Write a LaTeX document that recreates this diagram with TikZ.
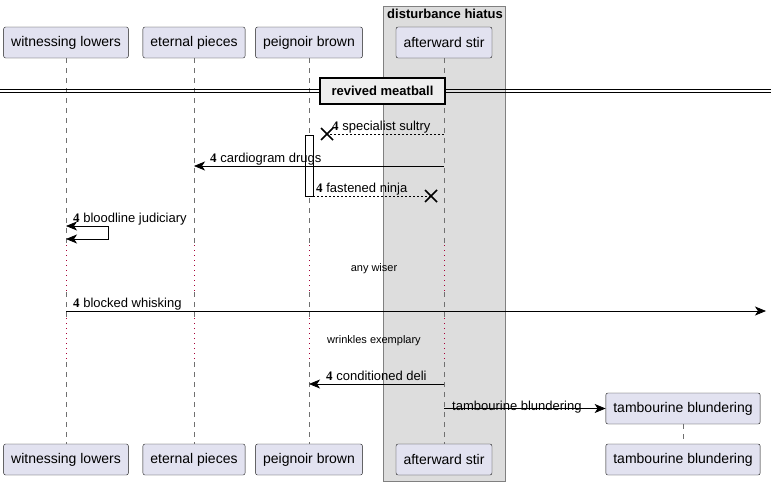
\documentclass[tikz,border=0pt]{standalone}
\usepackage{fontspec}
\setmainfont{Liberation Sans}
\newfontfamily\numfont{Liberation Serif}
\usetikzlibrary{arrows.meta}
\definecolor{partfill}{HTML}{E2E2F0}
\definecolor{partline}{HTML}{181818}
\definecolor{grpfill}{HTML}{DDDDDD}
\definecolor{grpline}{HTML}{808080}
\definecolor{lifegrey}{HTML}{707070}
\definecolor{delayred}{HTML}{A80036}
\definecolor{divfill}{HTML}{EEEEEE}
\newcommand{\nr}{{\numfont\bfseries 4}\ }
\newcommand{\pfont}{\fontsize{14}{16}\selectfont}
\newcommand{\mfont}{\fontsize{13}{15}\selectfont}

\begin{document}
\begin{tikzpicture}[x=1pt,y=-1pt,
  part/.style={draw=partline,fill=partfill,rounded corners=2pt,font=\pfont,
    minimum height=31pt,inner xsep=7.5pt,inner ysep=0pt},
  life/.style={lifegrey,dash pattern=on 5pt off 5pt},
  delay/.style={delayred,line width=0.8pt,dash pattern=on 1pt off 4pt},
  msg/.style={-{Stealth[length=11pt,width=9pt,inset=3pt]},line width=0.8pt},
  ret/.style={line width=0.8pt,dash pattern=on 2pt off 2pt},
  cross/.style={line width=1.6pt},
  lbl/.style={anchor=base west,font=\mfont,inner sep=0pt},
  delaytxt/.style={font=\fontsize{11}{13}\selectfont,inner sep=0pt}]
  \useasboundingbox (0,0) rectangle (771,485);

  % group box
  \draw[grpline,fill=grpfill] (383,6) rectangle (505,481);
  \node[font=\bfseries\mfont,inner sep=0pt] (grp) at (445,14) {disturbance hiatus};

  % rows
  \coordinate (d1) at (0,245);
  \coordinate (d2) at (0,292);
  \coordinate (d3) at (0,318);
  \coordinate (d4) at (0,362);
  \coordinate (m1) at (0,134);
  \coordinate (m2) at (0,166);
  \coordinate (m3) at (0,196);
  \coordinate (m4) at (0,226);
  \coordinate (m5) at (0,311);
  \coordinate (m6) at (0,384);

  % participants
  \node[part] (wl)  at ( 66, 42.5) {witnessing lowers};
  \node[part] (ep)  at (194, 42.5) {eternal pieces};
  \node[part] (pb)  at (309, 42.5) {peignoir brown};
  \node[part] (as)  at (444, 42.5) {afterward stir};
  \node[part] (wlb) at ( 66,459.5) {witnessing lowers};
  \node[part] (epb) at (194,459.5) {eternal pieces};
  \node[part] (pbb) at (309,459.5) {peignoir brown};
  \node[part] (asb) at (444,459.5) {afterward stir};
  \node[part] (tbb) at (683,459.5) {tambourine blundering};

  % lifelines with delays
  \foreach \p/\q in {wl/wlb,ep/epb,pb/pbb,as/asb} {
    \draw[life]  (\p.south)  -- (\p.south |- d1);
    \draw[delay] (\p.south |- d1) -- (\p.south |- d2);
    \draw[life]  (\p.south |- d2) -- (\p.south |- d3);
    \draw[delay] (\p.south |- d3) -- (\p.south |- d4);
    \draw[life]  (\p.south |- d4) -- (\q.north);
  }

  % divider
  \draw (0,89.5) -- (771,89.5);
  \draw (0,92.5) -- (771,92.5);
  \node[draw,line width=1.5pt,fill=divfill,font=\bfseries\mfont,
    minimum width=125pt,minimum height=26pt,inner sep=0pt] (div) at (382.5,91) {revived meatball};

  % activation
  \node[draw,fill=white,minimum width=8pt,minimum height=61pt,inner sep=0pt] (act) at (309,165.5) {};

  % 1
  \coordinate (kill1) at (327,134);
  \draw[ret] (as |- m1) -- (kill1);
  \draw[cross] (kill1) +(-6,-6) -- +(6,6) (kill1) +(-6,6) -- +(6,-6);
  \node[lbl] at (332,130) {\nr specialist sultry};
  % 2
  \draw[msg] (as |- m2) -- (ep |- m2);
  \node[lbl] at (210,162) {\nr cardiogram drugs};
  % 3
  \coordinate (kill2) at (431,196);
  \draw[ret] (act.east |- m3) -- (kill2);
  \draw[cross] (kill2) +(-6,-6) -- +(6,6) (kill2) +(-6,6) -- +(6,-6);
  \node[lbl] at (316,192) {\nr fastened ninja};
  % 4 self
  \draw[{Stealth[length=11pt,width=9pt,inset=3pt]}-{Stealth[length=11pt,width=9pt,inset=3pt]},line width=0.8pt]
    (wl |- m4) -- ++(42,0) -- ++(0,13) -- ++(-42,0);
  \node[lbl] at (73,222) {\nr bloodline judiciary};
  % delay 1
  \node[delaytxt] at (374,269) {any wiser};
  % 5
  \coordinate (edge) at (766,311);
  \draw[msg] (wl |- m5) -- (edge);
  \node[lbl] at (73,307) {\nr blocked whisking};
  % delay 2
  \node[delaytxt] at (374,341) {wrinkles exemplary};
  % 6
  \draw[msg] (as |- m6) -- (pb |- m6);
  \node[lbl] at (326,380) {\nr conditioned deli};
  % 7 create
  \node[part] (tb) at (683,408.5) {tambourine blundering};
  \draw[life] (tb.south) -- (tbb.north);
  \draw[msg] (as |- tb) -- (tb.west);
  \node[lbl] at (452,410) {tambourine blundering};
\end{tikzpicture}
\end{document}
